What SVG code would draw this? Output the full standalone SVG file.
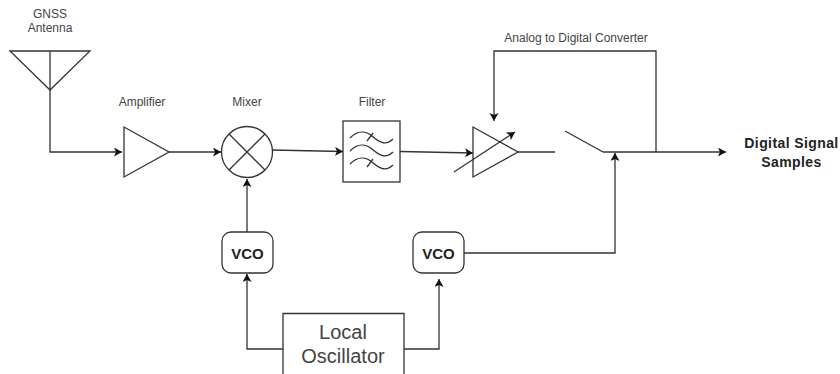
<svg xmlns="http://www.w3.org/2000/svg" width="840" height="374" viewBox="0 0 840 374">
<defs>
<marker id="a" markerUnits="userSpaceOnUse" markerWidth="10" markerHeight="10" refX="8" refY="4.5" orient="auto"><path d="M0 0L8 4.5L0 9L2 4.5Z" fill="#111"/></marker>
</defs>
<style>
.s{fill:none;stroke:#333;stroke-width:1.3}
.c{fill:none;stroke:#333;stroke-width:1.3}
.e{marker-end:url(#a)}
text{font-family:"Liberation Sans",Arial,sans-serif;fill:#444;text-anchor:middle}
.l{font-size:12px}
.b{font-size:14px;font-weight:bold;fill:#222;letter-spacing:.4px}
.v{font-size:15px;font-weight:bold;fill:#222}
.o{font-size:20px}
</style>
<rect width="840" height="374" fill="#fff"/>
<g id="connectors">
<path class="c e" d="M50 90V152H122"/>
<path class="c e" d="M169 152H221"/>
<path class="c e" d="M272 150L343 151.5"/>
<path class="c e" d="M400 151.5L473 153"/>
<path class="c" d="M518 152H555"/>
<path class="c e" d="M603 152H726"/>
<path class="c e" d="M656 152V51H494V121"/>
<path class="c e" d="M247 232V179"/>
<path class="c e" d="M283 349H247V274"/>
<path class="c e" d="M404 349H439V279"/>
<path class="c e" d="M464 253H615V153"/>
</g>
<g id="antenna">
<path class="s" d="M10 51H90L50 90ZM50 51V90"/>
<text class="l"><tspan x="50" y="18">GNSS</tspan><tspan x="50" y="32">Antenna</tspan></text>
</g>
<g id="amplifier">
<path class="s" d="M124 127V177L169 152Z"/>
<text class="l" x="142" y="106">Amplifier</text>
</g>
<g id="mixer">
<circle class="s" cx="247" cy="152" r="25.5"/>
<path class="s" d="M229 134L265 170M265 134L229 170"/>
<text class="l" x="247" y="106">Mixer</text>
</g>
<g id="filter">
<rect class="s" x="343" y="121" width="57" height="61"/>
<path class="s" d="M350 138C358 130 366 131 372 136S385 147 393 139M350 151C358 143 366 144 372 149S385 160 393 152M350 164C358 156 366 157 372 162S385 173 393 165M367 141L373 133M367 167L373 159"/>
<text class="l" x="372" y="106">Filter</text>
</g>
<g id="adc-amplifier">
<path class="s" d="M473 127V177L518 152Z"/>
<path class="c e" d="M454 172L515 132"/>
</g>
<g id="switch">
<path class="s" d="M565 131L603 152"/>
<text class="l" x="576" y="42">Analog to Digital Converter</text>
</g>
<g id="vco1">
<rect class="s" x="222" y="232" width="51" height="41" rx="9"/>
<text class="v" x="247.500" y="258.500">VCO</text>
</g>
<g id="vco2">
<rect class="s" x="413" y="232" width="51" height="41" rx="9"/>
<text class="v" x="438.500" y="258.500">VCO</text>
</g>
<g id="local-oscillator">
<path class="s" d="M283 374V313.500H404V374"/>
<text class="o" x="343" y="339">Local</text>
<text class="o" x="343" y="363">Oscillator</text>
</g>
<g id="output">
<text class="b"><tspan x="791.500" y="148">Digital Signal</tspan><tspan x="791.500" y="166.500">Samples</tspan></text>
</g>
</svg>
